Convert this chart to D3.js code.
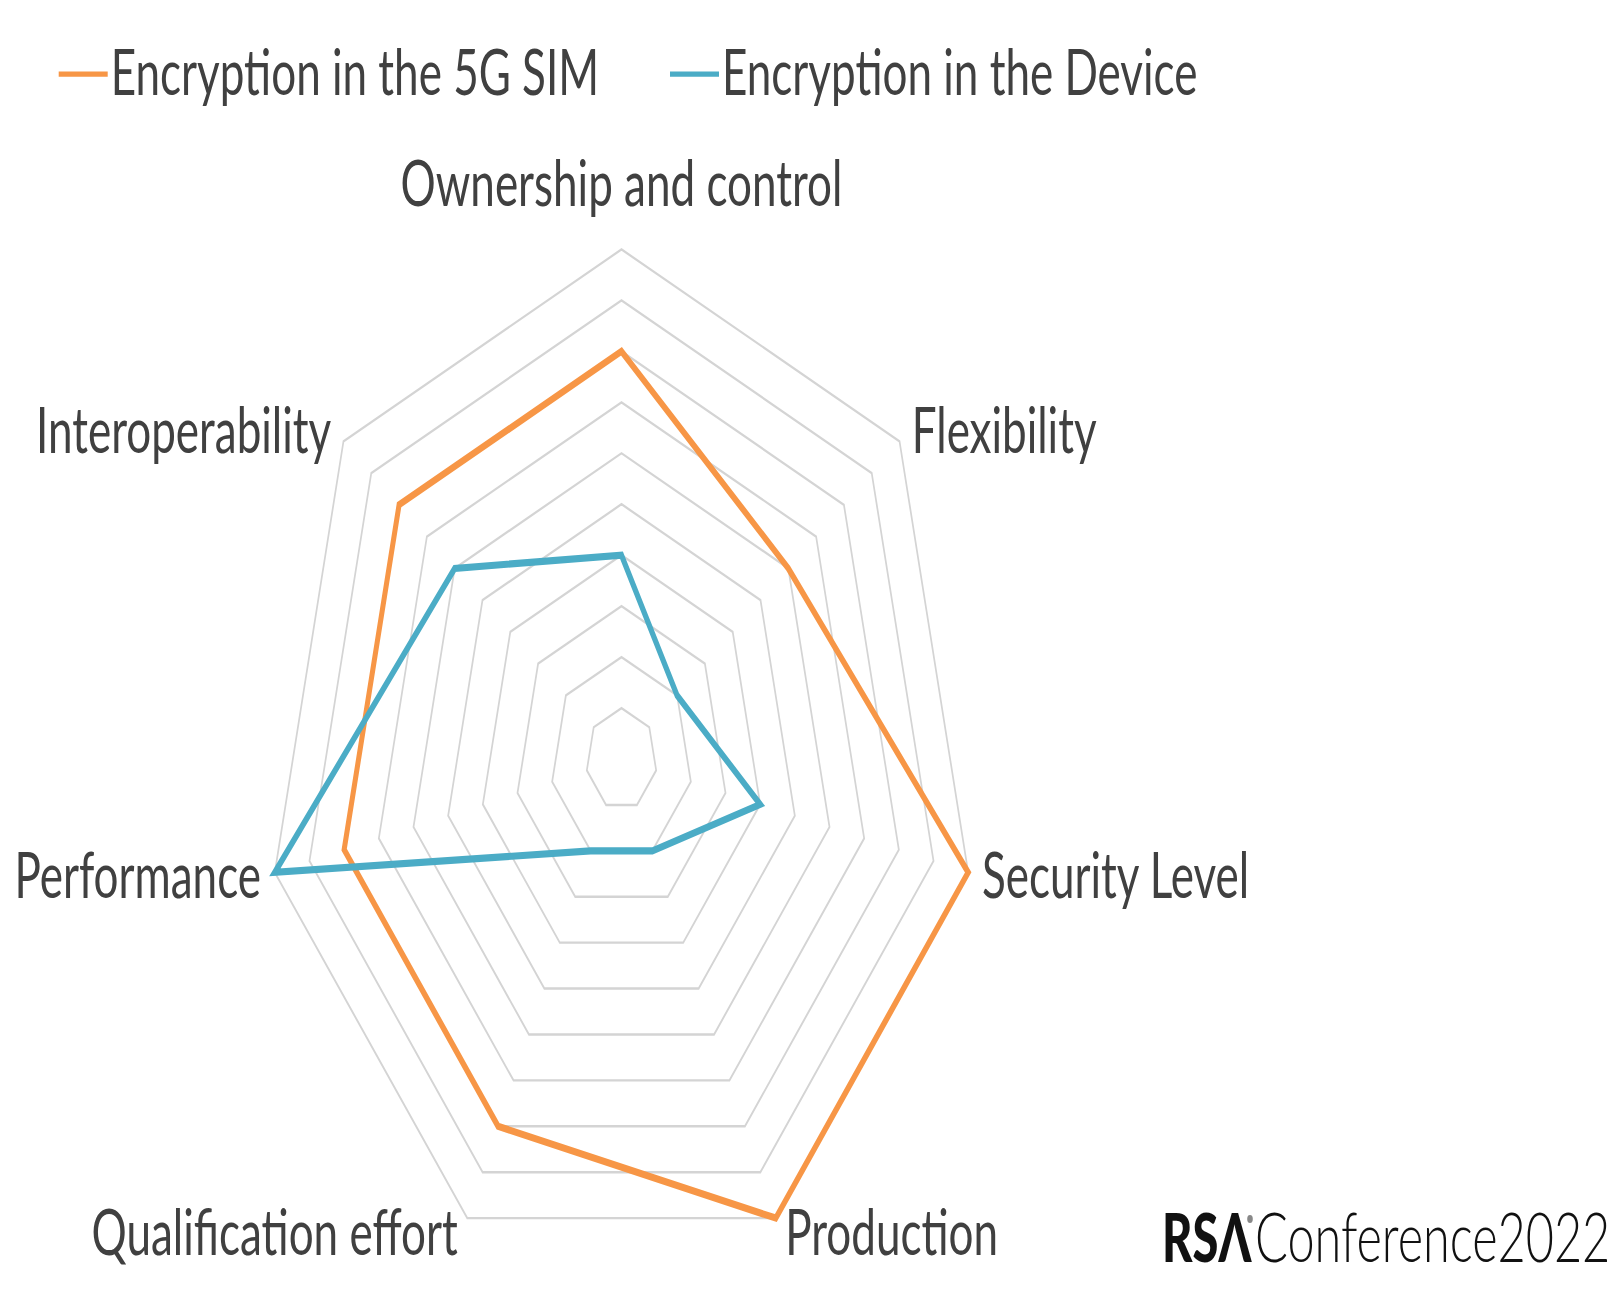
<!DOCTYPE html>
<html>
<head>
<meta charset="utf-8">
<script src="https://cdn.jsdelivr.net/npm/d3@7"></script>
<style>
  html, body { margin: 0; padding: 0; background: #fff; }
  svg { display: block; font-family: Lato, "Open Sans", sans-serif; }
</style>
</head>
<body>
<svg id="chart"></svg>
<script>
// axes, clockwise from the top
const axes = ["Ownership and control", "Flexibility", "Security Level", "Production",
              "Qualification effort", "Performance", "Interoperability"];
const seriesNames = ["Encryption in the 5G SIM", "Encryption in the Device"];
const simValues = [8, 6, 10, 10, 8, 8, 8];
const deviceValues = [4, 2, 4, 2, 2, 10, 6];
const gridLevels = [1, 2, 3, 4, 5, 6, 7, 8, 9, 10];
const colors = ["#f79646", "#4bacc6"];

const width = 1616, height = 1295;
// the source picture was stretched vertically, so draw flat and scale the group
const stretch = 1.433;
const cx = 621.5, cy = 759 / stretch, radius = 355.6;
const textColor = "#404040";
const fontSize = 44;

const svg = d3.select("#chart")
    .attr("width", width)
    .attr("height", height);

svg.append("rect").attr("width", width).attr("height", height).attr("fill", "#fff");

const g = svg.append("g").attr("transform", `scale(1,${stretch})`);

const r = d3.scaleLinear().domain([0, 10]).range([0, radius]);
const angle = d3.scaleLinear().domain([0, axes.length]).range([0, 2 * Math.PI]);
const point = (i, v) => [cx + r(v) * Math.sin(angle(i)), cy - r(v) * Math.cos(angle(i))];
const line = d3.line().curve(d3.curveLinearClosed);

// grid rings
g.append("g").selectAll("path")
    .data(gridLevels)
    .join("path")
    .attr("d", lv => line(axes.map((_, i) => point(i, lv))))
    .attr("fill", "none")
    .attr("stroke", "#d4d4d4")
    .attr("stroke-width", 1.7);

// series
const series = seriesNames.map((name, k) => ({
    name: name,
    values: k === 0 ? simValues : deviceValues,
    color: colors[k]
}));

g.append("g").selectAll("path")
    .data(series)
    .join("path")
    .attr("d", s => line(s.values.map((v, i) => point(i, v))))
    .attr("fill", "none")
    .attr("stroke", s => s.color)
    .attr("stroke-width", 5);

// axis labels
g.append("g").selectAll("text")
    .data(axes)
    .join("text")
    .each(function(d, i) {
        const [vx, vy] = point(i, 10);
        const s = Math.sin(angle(i)), c = Math.cos(angle(i));
        let x = vx, y, anchor = "middle";
        if (i === 0) {
            y = vy - 43 / stretch;
        } else {
            x = vx + Math.sign(s) * (6 + 8 * Math.abs(s));
            anchor = s > 0 ? "start" : "end";
            y = vy + (22 - 17 * c) / stretch;
        }
        d3.select(this)
            .attr("x", x)
            .attr("y", y)
            .attr("text-anchor", anchor);
    })
    .attr("font-size", fontSize)
    .attr("fill", textColor)
    .text(d => d);

// legend
const legendX = [58.7, 670];
const legend = g.append("g").selectAll("g")
    .data(series)
    .join("g")
    .attr("transform", (d, k) => `translate(${legendX[k]},0)`);

legend.append("line")
    .attr("x1", 0).attr("x2", 49)
    .attr("y1", 74.2 / stretch).attr("y2", 74.2 / stretch)
    .attr("stroke", d => d.color)
    .attr("stroke-width", 3.6);

legend.append("text")
    .attr("x", 52)
    .attr("y", 94.8 / stretch)
    .attr("font-size", fontSize)
    .attr("fill", textColor)
    .text(d => d.name);

// conference mark, bottom right
const logo = g.append("g");
logo.append("text")
    .attr("x", 1162).attr("y", 1262 / stretch)
    .attr("font-size", 47).attr("font-weight", 900)
    .attr("fill", "#111")
    .text("RSΛ");
logo.append("circle")
    .attr("cx", 1250).attr("cy", 1219 / stretch)
    .attr("r", 2.8).attr("fill", "#888");
logo.append("text")
    .attr("x", 1255).attr("y", 1262 / stretch)
    .attr("font-size", 48.6).attr("font-weight", 300)
    .attr("fill", "#111")
    .text("Conference2022");
</script>
</body>
</html>
